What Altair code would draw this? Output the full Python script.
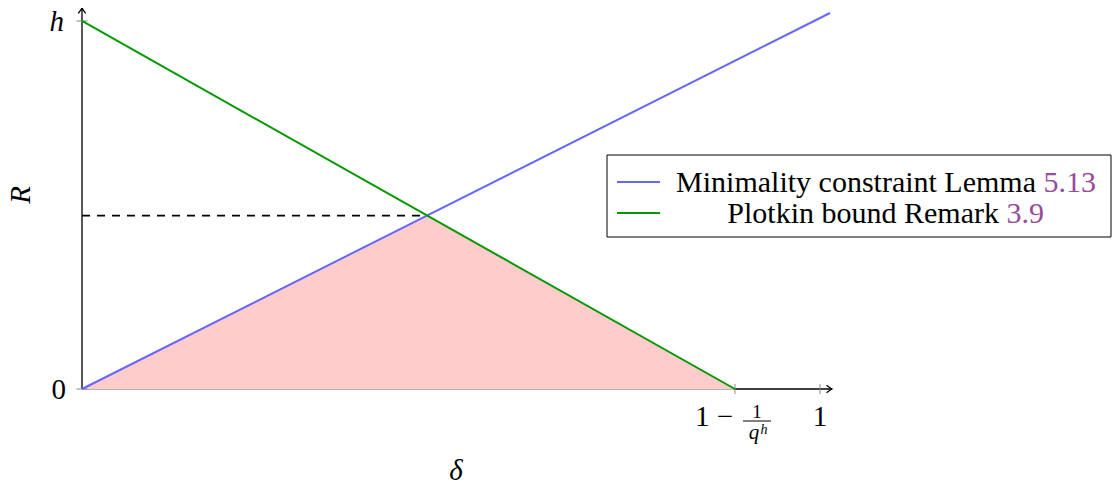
import altair as alt
import pandas as pd

FONT = "'Liberation Serif', 'Times New Roman', 'DejaVu Serif', serif"

# ---- data (h normalised to 1) ----
XMAX = 1.0163          # end of the x-axis arrow
YMAX = 1.0353          # end of the y-axis arrow
A = 0.8848             # position of 1 - 1/q^h

blue_x = [0.0, 1.0136]
blue_y = [0.0, 1.0217]
green_x = [0.0, A]
green_y = [1.0, 0.0]
cross_x = 0.469
cross_y = 0.471
region_x = [0.0, cross_x, A]
region_y = [0.0, cross_y, 0.0]
dash_x = [0.0, cross_x]
dash_y = [cross_y, cross_y]
xtick_vals = [A, 1.0]
ytick_vals = [0.0, 1.0]
ytick_labels = ["0", "h"]

BLUE = "#6666ff"
GREEN = "#009900"
PINK = "#ffcccc"
PURPLE = "#9a4a9a"

xs = alt.Scale(domain=[0, XMAX], nice=False, zero=False)
ys = alt.Scale(domain=[0, YMAX], nice=False, zero=False)


def X(field="x"):
    return alt.X(f"{field}:Q", scale=xs, axis=None)


def Y(field="y"):
    return alt.Y(f"{field}:Q", scale=ys, axis=None)


one = pd.DataFrame({"x": [0]})

region = alt.Chart(pd.DataFrame({"x": region_x, "y": region_y})).mark_area(
    color=PINK, opacity=1
).encode(x=X(), y=Y())

# axis lines
axis_df = pd.DataFrame({
    "x": [0.0, A, 0.0], "x2": [A, XMAX, 0.0],
    "y": [0.0, 0.0, 0.0], "y2": [0.0, 0.0, YMAX],
    "c": ["#9a9a9a", "#000000", "#000000"],
})
axes = alt.Chart(axis_df).mark_rule(strokeWidth=1.3).encode(
    x=X(), x2="x2:Q", y=Y(), y2="y2:Q",
    color=alt.Color("c:N", scale=None),
)

arrow_path = "M -1.3 -0.9 Q -0.5 -0.25 0 0 Q -0.5 0.25 -1.3 0.9"
arrows = alt.Chart(pd.DataFrame({"x": [XMAX, 0.0], "y": [0.0, YMAX], "a": [0, 270]})).mark_point(
    shape=arrow_path, filled=False, stroke="black", strokeWidth=1.3, size=70, opacity=1
).encode(x=X(), y=Y(), angle=alt.Angle("a:Q", scale=None))

xticks = alt.Chart(pd.DataFrame({"x": xtick_vals, "y": [0.0, 0.0]})).mark_tick(
    orient="vertical", size=10, thickness=1, color="#888888", opacity=1
).encode(x=X(), y=Y())
yticks = alt.Chart(pd.DataFrame({"x": [0.0, 0.0], "y": ytick_vals})).mark_tick(
    orient="horizontal", size=11, thickness=1, color="#888888", opacity=1
).encode(x=X(), y=Y())

blue = alt.Chart(pd.DataFrame({"x": blue_x, "y": blue_y})).mark_line(
    color=BLUE, strokeWidth=2
).encode(x=X(), y=Y())
green = alt.Chart(pd.DataFrame({"x": green_x, "y": green_y})).mark_line(
    color=GREEN, strokeWidth=2
).encode(x=X(), y=Y())
dashed = alt.Chart(pd.DataFrame({"x": dash_x, "y": dash_y})).mark_line(
    color="black", strokeWidth=1.6, strokeDash=[8, 7]
).encode(x=X(), y=Y())

# tick labels
ylab0 = alt.Chart(pd.DataFrame({"x": [0.0], "y": [ytick_vals[0]], "t": [ytick_labels[0]]})).mark_text(
    font=FONT, fontSize=29, align="right", baseline="middle", dx=-16, dy=1, color="black"
).encode(x=X(), y=Y(), text="t:N")
ylab1 = alt.Chart(pd.DataFrame({"x": [0.0], "y": [ytick_vals[1]], "t": [ytick_labels[1]]})).mark_text(
    font=FONT, fontSize=29, fontStyle="italic", align="right", baseline="middle", dx=-18, dy=1, color="black"
).encode(x=X(), y=Y(), text="t:N")

one_lab = alt.Chart(pd.DataFrame({"x": [1.0], "y": [0.0], "t": ["1"]})).mark_text(
    font=FONT, fontSize=29, align="center", baseline="middle", dy=28, color="black"
).encode(x=X(), y=Y(), text="t:N")

fr = pd.DataFrame({"x": [A], "y": [0.0]})
frac_a = alt.Chart(fr).mark_text(
    text="1 \u2212", font=FONT, fontSize=29, align="center", baseline="middle", dx=-21, dy=28, color="black"
).encode(x=X(), y=Y())
frac_num = alt.Chart(fr).mark_text(
    text="1", font=FONT, fontSize=19, align="center", baseline="middle", dx=22, dy=23, color="black"
).encode(x=X(), y=Y())
frac_bar = alt.Chart(fr).mark_rule(
    color="black", strokeWidth=1, xOffset=8, x2Offset=36, yOffset=32, y2Offset=32
).encode(x=X(), x2="x:Q", y=Y(), y2="y:Q")
frac_q = alt.Chart(fr).mark_text(
    text="q", font=FONT, fontSize=21, fontStyle="italic", align="center", baseline="alphabetic",
    dx=19, dy=50, color="black"
).encode(x=X(), y=Y())
frac_h = alt.Chart(fr).mark_text(
    text="h", font=FONT, fontSize=14, fontStyle="italic", align="center", baseline="alphabetic",
    dx=29, dy=45, color="black"
).encode(x=X(), y=Y())

# axis titles
rlab = alt.Chart(one).mark_text(
    text="R", font=FONT, fontSize=29, fontStyle="italic", angle=270, align="center", baseline="middle",
    color="black"
).encode(x=alt.value(-61), y=alt.value(187))
dlab = alt.Chart(one).mark_text(
    text="\u03b4", font=FONT, fontSize=29, fontStyle="italic", align="center", baseline="middle",
    color="black"
).encode(x=alt.value(374), y=alt.value(463))

# legend
leg_box = alt.Chart(one).mark_rect(fill="white", stroke="black", strokeWidth=1).encode(
    x=alt.value(525), x2=alt.value(1029), y=alt.value(147), y2=alt.value(229)
)
leg_l1 = alt.Chart(one).mark_rule(color=BLUE, strokeWidth=2).encode(
    x=alt.value(535), x2=alt.value(578), y=alt.value(174), y2=alt.value(174))
leg_l2 = alt.Chart(one).mark_rule(color=GREEN, strokeWidth=2).encode(
    x=alt.value(535), x2=alt.value(578), y=alt.value(205), y2=alt.value(205))
leg_t1 = alt.Chart(one).mark_text(
    text="Minimality constraint Lemma", font=FONT, fontSize=30, align="right", baseline="middle", color="black"
).encode(x=alt.value(954), y=alt.value(175))
leg_n1 = alt.Chart(one).mark_text(
    text="5.13", font=FONT, fontSize=30, align="right", baseline="middle", color=PURPLE
).encode(x=alt.value(1014), y=alt.value(175))
leg_t2 = alt.Chart(one).mark_text(
    text="Plotkin bound Remark", font=FONT, fontSize=30, align="right", baseline="middle", color="black"
).encode(x=alt.value(917), y=alt.value(206))
leg_n2 = alt.Chart(one).mark_text(
    text="3.9", font=FONT, fontSize=30, align="right", baseline="middle", color=PURPLE
).encode(x=alt.value(962), y=alt.value(206))

chart = alt.layer(
    axes, region, xticks, yticks, arrows, dashed, blue, green,
    ylab0, ylab1, one_lab, frac_a, frac_num, frac_bar, frac_q, frac_h, rlab, dlab,
    leg_box, leg_l1, leg_l2, leg_t1, leg_n1, leg_t2, leg_n2,
).properties(
    width=750, height=381,
    autosize=alt.AutoSizeParams(type="none"),
    padding={"left": 74, "top": 0, "right": 280, "bottom": 94},
).configure_view(stroke=None)

chart.save("out.html", embed_options={"renderer": "svg", "actions": False})
